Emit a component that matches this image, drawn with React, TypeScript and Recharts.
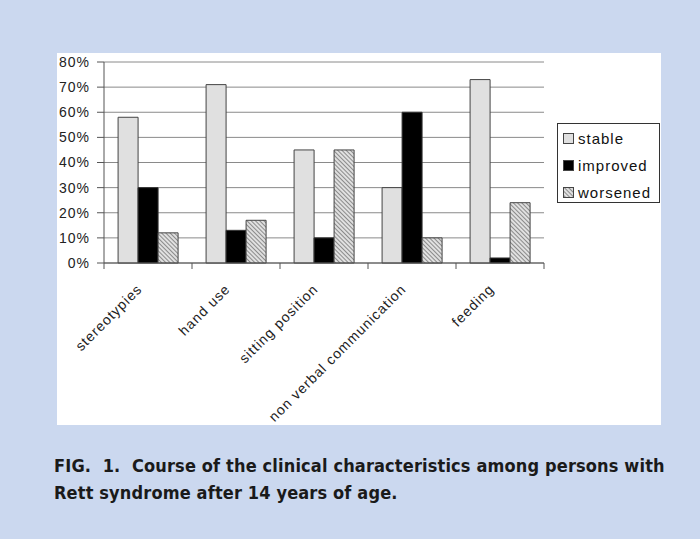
import React from "react";
import {
  BarChart,
  Bar,
  XAxis,
  YAxis,
  CartesianGrid,
  Legend,
} from "recharts";

const categories = [
  "stereotypies",
  "hand use",
  "sitting position",
  "non verbal communication",
  "feeding",
];
const stable = [58, 71, 45, 30, 73];
const improved = [30, 13, 10, 60, 2];
const worsened = [12, 17, 45, 10, 24];
const yTicks = [0, 10, 20, 30, 40, 50, 60, 70, 80];

const data = categories.map((name, i) => ({
  name,
  stable: stable[i],
  improved: improved[i],
  worsened: worsened[i],
}));

const legendItems = [
  { key: "stable", fill: "#e0e0e0" },
  { key: "improved", fill: "#000000" },
  { key: "worsened", fill: "url(#hatch)" },
];

const axisFont = {
  fontFamily: "'Liberation Sans', Arial, sans-serif",
  fontSize: 14,
  letterSpacing: 1,
  fill: "#222",
};

const CategoryTick = (props: any) => {
  const { x, y, payload, index } = props;
  const off = payload.offset || 0;
  const last = index === categories.length - 1;
  const tx = x - 5;
  const ty = y + 27;
  return (
    <g>
      <line x1={x - off} y1={y} x2={x - off} y2={y + 6} stroke="#555" />
      {last && (
        <line x1={x + off} y1={y} x2={x + off} y2={y + 6} stroke="#555" />
      )}
      <text
        x={tx}
        y={ty}
        textAnchor="end"
        transform={`rotate(-45, ${tx}, ${ty})`}
        {...axisFont}
      >
        {payload.value}
      </text>
    </g>
  );
};

const LegendBox = () => (
  <div
    style={{
      border: "1px solid #333",
      background: "#fff",
      width: 101,
      height: 78,
      boxSizing: "content-box",
    }}
  >
    {legendItems.map((it, i) => (
      <div
        key={it.key}
        style={{
          display: "flex",
          alignItems: "center",
          height: 27,
          marginTop: i === 0 ? 1 : 0,
          paddingLeft: 5,
        }}
      >
        <svg width={11} height={11} style={{ marginRight: 4 }}>
          <rect
            x={0.5}
            y={0.5}
            width={10}
            height={10}
            fill={it.fill}
            stroke="#444"
          />
        </svg>
        <span
          style={{
            fontFamily: "'Liberation Sans', Arial, sans-serif",
            fontSize: 15,
            letterSpacing: 1,
            color: "#111",
          }}
        >
          {it.key}
        </span>
      </div>
    ))}
  </div>
);

export default function App() {
  return (
    <div
      style={{
        position: "absolute",
        left: 0,
        top: 0,
        width: 700,
        height: 539,
        background: "#cbd8ef",
        overflow: "hidden",
      }}
    >
      <svg width={0} height={0} style={{ position: "absolute" }}>
        <defs>
          <pattern
            id="hatch"
            width={3}
            height={3}
            patternUnits="userSpaceOnUse"
            patternTransform="rotate(-45)"
          >
            <rect width={3} height={3} fill="#e0e0e0" />
            <line x1={0} y1={0} x2={0} y2={3} stroke="#6e6e6e" strokeWidth={1.5} />
          </pattern>
        </defs>
      </svg>
      <div
        style={{
          position: "absolute",
          left: 57,
          top: 53,
          width: 604,
          height: 372,
          background: "#fff",
        }}
      />
      <div style={{ position: "absolute", left: 0, top: 0 }}>
        <BarChart
          width={700}
          height={539}
          data={data}
          margin={{ top: 62, right: 156, left: 57, bottom: 126 }}
          barCategoryGap="16%"
          barGap={0}
        >
          <CartesianGrid vertical={false} stroke="#8a8a8a" />
          <XAxis
            dataKey="name"
            interval={0}
            height={150}
            tickSize={0}
            tickMargin={0}
            tickLine={false}
            axisLine={{ stroke: "#555" }}
            tick={<CategoryTick />}
          />
          <YAxis
            domain={[0, 80]}
            ticks={yTicks}
            width={47}
            tickSize={7}
            tickMargin={7}
            tickLine={{ stroke: "#555" }}
            axisLine={{ stroke: "#555" }}
            tickFormatter={(v: number) => `${v}%`}
            tick={axisFont}
          />
          <YAxis
            yAxisId="right"
            orientation="right"
            domain={[0, 80]}
            width={0}
            tick={false}
            tickLine={false}
            axisLine={{ stroke: "#8a8a8a" }}
          />
          <Legend
            layout="horizontal"
            verticalAlign="middle"
            align="center"
            content={<LegendBox />}
            wrapperStyle={{ position: "absolute", left: 557, top: 123, width: 103 }}
          />
          <Bar
            dataKey="stable"
            fill="#e0e0e0"
            stroke="#444"
            isAnimationActive={false}
          />
          <Bar
            dataKey="improved"
            fill="#000"
            stroke="#333"
            isAnimationActive={false}
          />
          <Bar
            dataKey="worsened"
            fill="url(#hatch)"
            stroke="#444"
            isAnimationActive={false}
          />
        </BarChart>
      </div>
      <div
        style={{
          position: "absolute",
          left: 54,
          top: 452,
          width: 640,
          fontFamily: "'DejaVu Sans Condensed', 'DejaVu Sans', sans-serif",
          fontWeight: "bold",
          fontSize: 18,
          lineHeight: "27px",
          color: "#1a1a1a",
          letterSpacing: 0.15,
        }}
      >
        <div style={{ whiteSpace: "nowrap" }}>
          FIG.&nbsp; 1.&nbsp; Course of the clinical characteristics among persons with
        </div>
        <div style={{ whiteSpace: "nowrap" }}>
          Rett syndrome after 14 years of age.
        </div>
      </div>
    </div>
  );
}
